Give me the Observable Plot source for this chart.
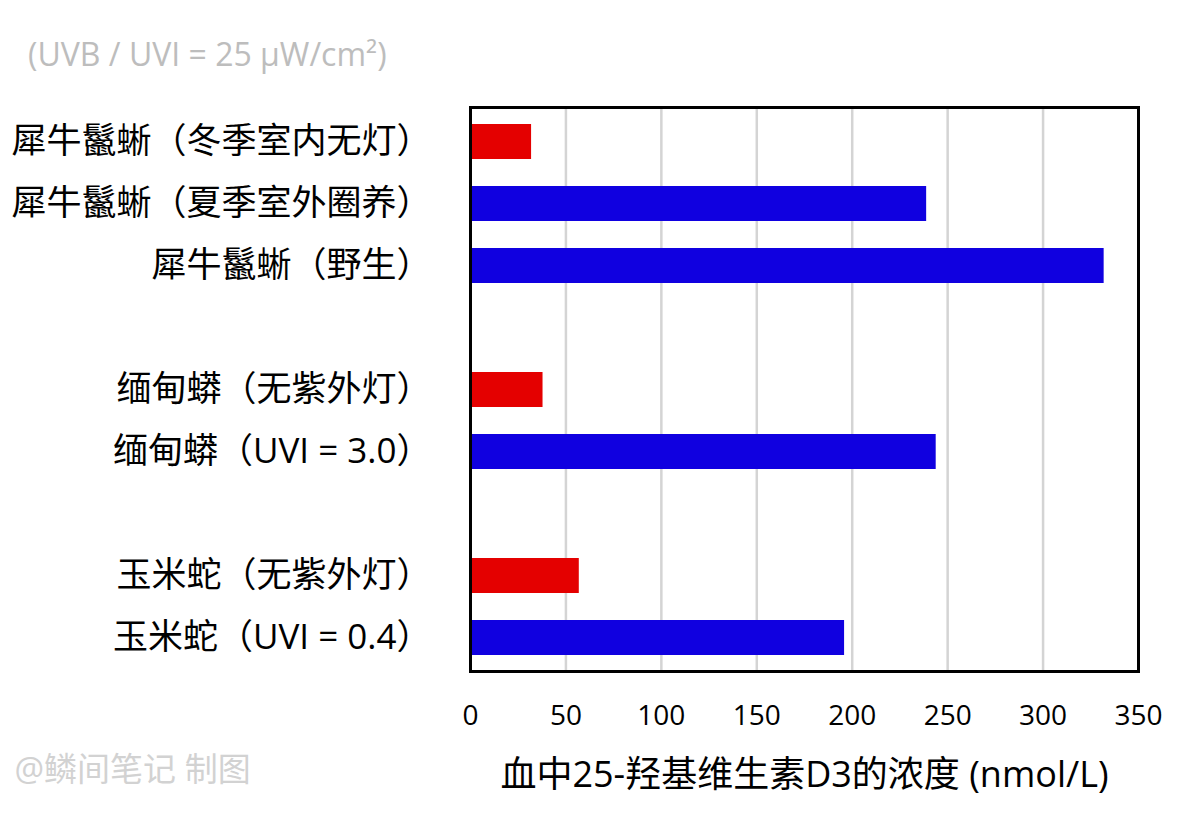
<!DOCTYPE html>
<html>
<head>
<meta charset="utf-8">
<script src="https://cdn.jsdelivr.net/npm/d3@7"></script>
<script src="https://cdn.jsdelivr.net/npm/@observablehq/plot@0.6"></script>
<style>
  html, body { margin: 0; padding: 0; background: #fff; }
  body { width: 1192px; height: 819px; position: relative; overflow: hidden; font-family: "Open Sans", "Noto Sans CJK SC", sans-serif; }
  #subtitle { position: absolute; left: 28px; top: 33px; font-size: 32px; line-height: 42px; color: #bdbdbd; white-space: nowrap; }
  #chart { position: absolute; left: 0; top: 80px; }
</style>
</head>
<body>
<div id="subtitle">(UVB / UVI = 25 μW/cm²)</div>
<div id="chart"></div>
<script>
// ---- data ----
const labels = [
  "犀牛鬣蜥（冬季室内无灯）",
  "犀牛鬣蜥（夏季室外圈养）",
  "犀牛鬣蜥（野生）",
  "缅甸蟒（无紫外灯）",
  "缅甸蟒（UVI = 3.0）",
  "玉米蛇（无紫外灯）",
  "玉米蛇（UVI = 0.4）"
];
const values = [32, 239, 332, 38, 244, 57, 196];
const uvExposure = ["无", "有", "有", "无", "有", "无", "有"];
const rowOrder = [labels[0], labels[1], labels[2], " ", labels[3], labels[4], "  ", labels[5], labels[6]];
const xTicks = [0, 50, 100, 150, 200, 250, 300, 350];
const xLabel = "血中25-羟基维生素D3的浓度 (nmol/L)";
const credit = "@鳞间笔记 制图";

const rows = labels.map((label, i) => ({label, value: values[i], uv: uvExposure[i]}));

const chart = Plot.plot({
  width: 1192,
  height: 739,
  marginTop: 27,
  marginBottom: 148,
  marginLeft: 470,
  marginRight: 54,
  style: {fontFamily: "'Open Sans', 'Noto Sans CJK SC', sans-serif", fontSize: "28px", color: "#000", background: "#fff"},
  x: {domain: [0, 350], ticks: xTicks, label: null},
  y: {domain: rowOrder, paddingInner: 0.44, paddingOuter: 0.22, label: null},
  color: {domain: ["无", "有"], range: ["#e40000", "#1000e0"]},
  marks: [
    Plot.gridX(xTicks, {stroke: "#d4d4d4", strokeOpacity: 1, strokeWidth: 2.5}),
    Plot.barX(rows, {x: "value", y: "label", fill: "uv"}),
    Plot.axisX({ticks: xTicks, tickSize: 0, tickPadding: 34, fontSize: 28, label: null}),
    Plot.axisY({tickSize: 0, tickPadding: 39, fontSize: 35, label: null}),
    Plot.frame({stroke: "#000", strokeWidth: 3}),
    Plot.text([xLabel], {frameAnchor: "bottom", dy: 104, fontSize: 36, fill: "#000", lineAnchor: "middle"}),
    Plot.text([credit], {frameAnchor: "bottom-left", dx: -456, dy: 99, textAnchor: "start", fontSize: 33, fill: "#d2d2d2", lineAnchor: "middle"})
  ]
});
document.getElementById("chart").appendChild(chart);
</script>
</body>
</html>
